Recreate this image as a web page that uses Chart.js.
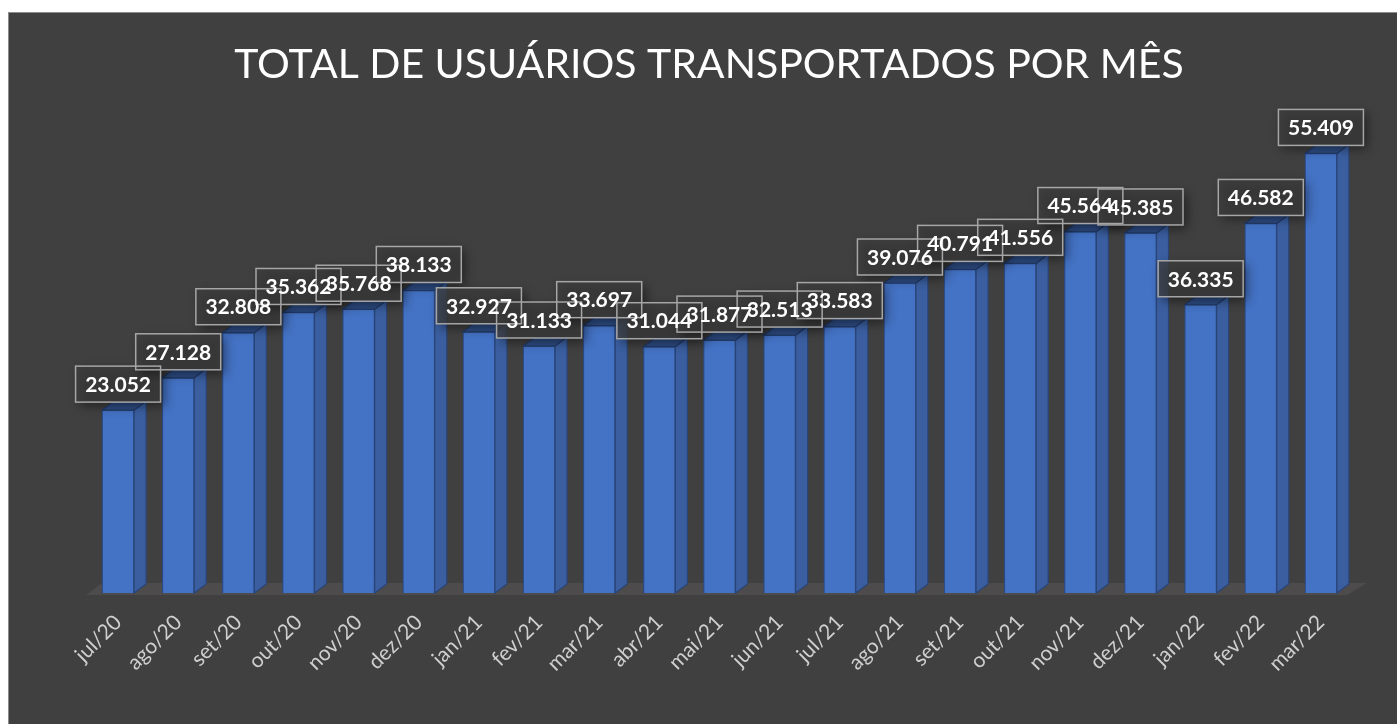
<!DOCTYPE html>
<html>
<head>
<meta charset="utf-8">
<script src="https://cdn.jsdelivr.net/npm/chart.js@4.4.1/dist/chart.umd.min.js"></script>
<style>
  body { margin: 0; background: #ffffff; }
  #frame {
    position: absolute; left: 8px; top: 12px; width: 1389px; height: 712px;
    background: #404040; border-top: 1px solid #8c8c8c; border-left: 1px solid #8c8c8c;
    box-sizing: border-box;
  }
  #chart { position: absolute; left: 0; top: 0; }
</style>
</head>
<body>
<div id="frame"></div>
<canvas id="chart" width="1397" height="724"></canvas>
<script>
const months = [
  'jul/20', 'ago/20', 'set/20', 'out/20', 'nov/20', 'dez/20',
  'jan/21', 'fev/21', 'mar/21', 'abr/21', 'mai/21', 'jun/21',
  'jul/21', 'ago/21', 'set/21', 'out/21', 'nov/21', 'dez/21',
  'jan/22', 'fev/22', 'mar/22'
];
const users = [
  23052, 27128, 32808, 35362, 35768, 38133,
  32927, 31133, 33697, 31044, 31877, 32513,
  33583, 39076, 40791, 41556, 45564, 45385,
  36335, 46582, 55409
];
const chartTitle = 'TOTAL DE USUÁRIOS TRANSPORTADOS POR MÊS';

// depth of the fake 3d
const DX = 12, DY = 9;

function fmt(v) {
  const s = String(v);
  return s.replace(/\B(?=(\d{3})+(?!\d))/g, '.');
}

function poly(ctx, pts, fill, stroke) {
  ctx.beginPath();
  ctx.moveTo(pts[0][0], pts[0][1]);
  for (let i = 1; i < pts.length; i++) ctx.lineTo(pts[i][0], pts[i][1]);
  ctx.closePath();
  ctx.fillStyle = fill;
  ctx.fill();
  if (stroke) {
    ctx.strokeStyle = stroke;
    ctx.lineWidth = 1.2;
    ctx.stroke();
  }
}

const bars3d = {
  id: 'bars3d',
  beforeDatasetsDraw(chart) {
    const ctx = chart.ctx;
    const area = chart.chartArea;
    const base = chart.scales.y.getPixelForValue(0);
    // floor
    ctx.save();
    poly(ctx, [
      [area.left - 2, base + 2],
      [area.right - 4, base + 2],
      [area.right + DX + 4, base - DY - 1],
      [area.left + DX + 2, base - DY - 1]
    ], '#4d4b4b');
    ctx.restore();
  },
  afterDatasetsDraw(chart) {
    const ctx = chart.ctx;
    const meta = chart.getDatasetMeta(0);
    ctx.save();
    meta.data.forEach(bar => {
      const l = bar.x - bar.width / 2;
      const r = bar.x + bar.width / 2;
      const t = bar.y;
      const b = bar.base;
      // side face
      poly(ctx, [[r, t], [r + DX, t - DY], [r + DX, b - DY], [r, b]], '#3a5e9f', '#2a4578');
      // top face
      poly(ctx, [[l, t], [l + DX, t - DY], [r + DX, t - DY], [r, t]], '#2d4c84', '#223a66');
    });
    ctx.restore();
  },
  afterDraw(chart) {
    const ctx = chart.ctx;
    const meta = chart.getDatasetMeta(0);

    // title, centred on the frame
    ctx.save();
    ctx.fillStyle = '#ffffff';
    ctx.font = '41px Lato';
    ctx.textAlign = 'center';
    ctx.textBaseline = 'alphabetic';
    ctx.fillText(chartTitle, 709, 78);
    ctx.restore();

    const boxes = meta.data.map((bar, i) => {
      const w = 85, h = 36;
      return { x: bar.x - w / 2, y: bar.y - 8 - h, w, h, text: fmt(users[i]) };
    });
    ctx.save();
    // shaded fills
    boxes.forEach(bx => {
      ctx.save();
      ctx.shadowColor = 'rgba(0,0,0,0.6)';
      ctx.shadowBlur = 10;
      ctx.shadowOffsetX = 4;
      ctx.shadowOffsetY = 4;
      ctx.fillStyle = 'rgba(62,62,62,0.75)';
      ctx.fillRect(bx.x, bx.y, bx.w, bx.h);
      ctx.restore();
    });
    ctx.strokeStyle = '#a6a6a6';
    ctx.lineWidth = 1.5;
    boxes.forEach(bx => ctx.strokeRect(bx.x, bx.y, bx.w, bx.h));
    ctx.fillStyle = '#ffffff';
    ctx.font = 'bold 21px Lato';
    ctx.textAlign = 'center';
    ctx.textBaseline = 'middle';
    boxes.forEach(bx => ctx.fillText(bx.text, bx.x + bx.w / 2, bx.y + bx.h / 2 + 1));
    ctx.restore();
  }
};

new Chart(document.getElementById('chart'), {
  type: 'bar',
  data: {
    labels: months,
    datasets: [{
      data: users,
      backgroundColor: '#4472c4',
      borderColor: '#2a4a85',
      borderWidth: 1.2,
      barThickness: 32
    }]
  },
  options: {
    responsive: false,
    animation: false,
    layout: { padding: { left: 88, right: 46, top: 117, bottom: 0 } },
    plugins: {
      legend: { display: false },
      tooltip: { enabled: false },
      title: { display: false }
    },
    scales: {
      x: {
        grid: { display: false, drawTicks: false },
        border: { display: false },
        ticks: {
          color: '#cfcfcf',
          font: { family: 'Lato', size: 21 },
          minRotation: 45,
          maxRotation: 45,
          padding: 17
        },
        afterFit(scale) { scale.height = 131; }
      },
      y: {
        display: false,
        min: 0,
        max: 60000
      }
    }
  },
  plugins: [bars3d]
});
</script>
</body>
</html>
